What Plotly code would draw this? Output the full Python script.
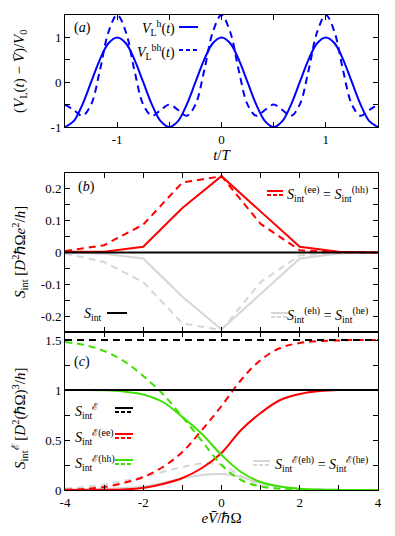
import plotly.graph_objects as go

# ---------------- data ----------------
# panel (a): time in units of the period T
t_a = [-1.5 + k / 12 for k in range(37)]
v_h = [-1, -0.87, -0.5, 0, 0.5, 0.87, 1, 0.87, 0.5, 0, -0.5, -0.87,
       -1, -0.87, -0.5, 0, 0.5, 0.87, 1, 0.87, 0.5, 0, -0.5, -0.87,
       -1, -0.87, -0.5, 0, 0.5, 0.87, 1, 0.87, 0.5, 0, -0.5, -0.87, -1]
v_bh = [-0.5, -0.62, -0.75, -0.5, 0.25, 1.12, 1.5, 1.12, 0.25, -0.5, -0.75, -0.62,
        -0.5, -0.62, -0.75, -0.5, 0.25, 1.12, 1.5, 1.12, 0.25, -0.5, -0.75, -0.62,
        -0.5, -0.62, -0.75, -0.5, 0.25, 1.12, 1.5, 1.12, 0.25, -0.5, -0.75, -0.62, -0.5]

# panel (b): bias eV/hbar Omega
x_b = [-4, -3, -2, -1, 0, 1, 2, 3, 4]
s_ee_solid = [0.002, 0.002, 0.018, 0.14, 0.24, 0.13, 0.018, 0.002, 0.0]
s_ee_dash = [0.005, 0.023, 0.088, 0.22, 0.24, 0.09, 0.007, 0.001, 0.0]
s_eh_solid = [0.0, -0.004, -0.019, -0.139, -0.242, -0.13, -0.019, -0.003, 0.0]
s_eh_dash = [-0.003, -0.03, -0.093, -0.223, -0.244, -0.093, -0.009, -0.001, 0.0]
s_tot_b = [0, 0, 0, 0, 0, 0, 0, 0, 0]

# panel (c)
x_c = [-4, -3.5, -3, -2.5, -2, -1.5, -1, -0.5, 0, 0.5, 1, 1.5, 2, 2.5, 3, 3.5, 4]
se_ee_solid = [0, 0, 0.002, 0.006, 0.02, 0.06, 0.12, 0.22, 0.37, 0.6, 0.77, 0.9, 0.96, 0.99, 1.0, 1.0, 1.0]
se_hh_solid = [1.0, 1.0, 0.997, 0.985, 0.955, 0.88, 0.73, 0.56, 0.35, 0.18, 0.08, 0.035, 0.012, 0.004, 0.001, 0, 0]
se_ee_dash = [0.003, 0.01, 0.03, 0.07, 0.13, 0.23, 0.38, 0.6, 0.84, 1.1, 1.3, 1.42, 1.47, 1.49, 1.495, 1.5, 1.5]
se_hh_dash = [1.48, 1.45, 1.39, 1.29, 1.14, 0.96, 0.73, 0.49, 0.25, 0.1, 0.035, 0.012, 0.003, 0, 0, 0, 0]
se_eh_solid = [0.005, 0.008, 0.012, 0.02, 0.035, 0.07, 0.115, 0.15, 0.16, 0.13, 0.07, 0.035, 0.012, 0.004, 0.001, 0, 0]
se_eh_dash = [0.015, 0.03, 0.055, 0.09, 0.13, 0.18, 0.23, 0.265, 0.25, 0.14, 0.05, 0.015, 0.005, 0, 0, 0, 0]
se_tot_solid = [1.0] * 17
se_tot_dash = [1.5] * 17

# tick definitions (labelled major ticks + unlabelled minor ticks)
a_xticks = [-1, 0, 1]
a_xlabels = ["-1", "0", "1"]
a_xminor = [-1.5, -0.5, 0.5, 1.5]
a_yticks = [-1, 0, 1]
a_ylabels = ["-1", "0", "1"]
a_yminor = [-0.5, 0.5, 1.5]
bc_xticks = [-4, -2, 0, 2, 4]
c_xlabels = ["-4", "-2", "0", "2", "4"]
bc_xminor = [-3, -1, 1, 3]
b_yticks = [-0.2, -0.1, 0, 0.1, 0.2]
b_ylabels = ["-0.2", "-0.1", "0", "0.1", "0.2"]
b_yminor = [-0.25, -0.15, -0.05, 0.05, 0.15, 0.25]
c_yticks = [0, 0.5, 1, 1.5]
c_ylabels = ["0", "0.5", "1", "1.5"]
c_yminor = [0.25, 0.75, 1.25]

# ---------------- style ----------------
BLUE = "#0000ff"
RED = "#ff0000"
GREEN = "#3ee000"
GRAY = "#d6d6d6"
BLACK = "#000000"
DASH = "7px,5px"
FONT = "Liberation Serif"
W, H = 395, 536
L, R, T, B = 65, 17, 15, 46
PH = H - T - B
PW = W - L - R

def ydom(top_px, bot_px):
    return [(H - B - bot_px) / PH, (H - B - top_px) / PH]

dom_a = ydom(15, 127)
dom_b = ydom(173, 332)
dom_c = ydom(332, 490)

fig = go.Figure()

def add(x, y, color, dash, xa, ya, width=2, shape="linear"):
    fig.add_trace(go.Scatter(x=x, y=y, mode="lines", xaxis=xa, yaxis=ya,
                             line=dict(color=color, width=width, dash=dash, shape=shape),
                             showlegend=False, hoverinfo="skip"))

# (a)
add(t_a, v_h, BLUE, "solid", "x", "y", shape="spline")
add(t_a, v_bh, BLUE, DASH, "x", "y", shape="spline")
# (b)
add(x_b, s_eh_solid, GRAY, "solid", "x2", "y2")
add(x_b, s_eh_dash, GRAY, DASH, "x2", "y2")
add(x_b, s_ee_solid, RED, "solid", "x2", "y2")
add(x_b, s_ee_dash, RED, DASH, "x2", "y2")
add(x_b, s_tot_b, BLACK, "solid", "x2", "y2", width=2.2)
# (c)
add(x_c, se_eh_solid, GRAY, "solid", "x3", "y3", shape="spline")
add(x_c, se_eh_dash, GRAY, DASH, "x3", "y3", shape="spline")
add(x_c, se_ee_solid, RED, "solid", "x3", "y3", shape="spline")
add(x_c, se_ee_dash, RED, DASH, "x3", "y3", shape="spline")
add(x_c, se_hh_solid, GREEN, "solid", "x3", "y3", shape="spline")
add(x_c, se_hh_dash, GREEN, DASH, "x3", "y3", shape="spline")
add(x_c, se_tot_solid, BLACK, "solid", "x3", "y3", width=2.2)
add(x_c, se_tot_dash, BLACK, DASH, "x3", "y3")

axis_common = dict(showline=True, linecolor="black", linewidth=1, mirror="allticks",
                   ticks="inside", ticklen=5, tickcolor="black", showgrid=False,
                   zeroline=False, automargin=False,
                   tickfont=dict(family=FONT, size=13, color="black"),
                   tickmode="array")

def minor(vals):
    return dict(tickmode="array", tickvals=vals, ticks="inside", ticklen=5,
                tickcolor="black", showgrid=False)

fig.update_layout(
    width=W, height=H, margin=dict(l=L, r=R, t=T, b=B, autoexpand=False),
    plot_bgcolor="white", paper_bgcolor="white",
    font=dict(family=FONT, size=13, color="black"),
    xaxis=dict(axis_common, domain=[0, 1], range=[-1.5, 1.5], anchor="y",
               tickvals=a_xticks, ticktext=a_xlabels, minor=minor(a_xminor),
               title=dict(text="<i>t</i>/<i>T</i>", standoff=0,
                          font=dict(family=FONT, size=15))),
    yaxis=dict(axis_common, domain=dom_a, range=[-1, 1.5], anchor="x",
               tickvals=a_yticks, ticktext=a_ylabels, minor=minor(a_yminor)),
    xaxis2=dict(axis_common, domain=[0, 1], range=[-4, 4], anchor="y2",
                tickvals=bc_xticks, showticklabels=False, minor=minor(bc_xminor)),
    yaxis2=dict(axis_common, domain=dom_b, range=[-0.25, 0.25], anchor="x2",
                tickvals=b_yticks, ticktext=b_ylabels, minor=minor(b_yminor)),
    xaxis3=dict(axis_common, domain=[0, 1], range=[-4, 4], anchor="y3",
                tickvals=bc_xticks, ticktext=c_xlabels, minor=minor(bc_xminor),
                title=dict(text="<i>e</i><i>V̄</i>/ℏΩ", standoff=0,
                           font=dict(family=FONT, size=15))),
    yaxis3=dict(axis_common, domain=dom_c, range=[0, 1.58], anchor="x3",
                tickvals=c_yticks, ticktext=c_ylabels, minor=minor(c_yminor)),
)

ann = []
shapes = []

def px2x(px):
    return (px - L) / PW

def px2y(py, dom):
    top_px = H - B - dom[1] * PH
    bot_px = H - B - dom[0] * PH
    return (bot_px - py) / (bot_px - top_px)

def text(px, py, s, dom, xa, ya, anchor="left", size=14):
    ann.append(dict(x=px2x(px), y=px2y(py, dom), xref=xa + " domain", yref=ya + " domain",
                    text=s, showarrow=False, xanchor=anchor, yanchor="middle",
                    font=dict(family=FONT, size=size, color="black")))

def sample(x0, x1, py, dom, xa, ya, color, dash):
    shapes.append(dict(type="line", x0=px2x(x0), x1=px2x(x1), y0=px2y(py, dom), y1=px2y(py, dom),
                       xref=xa + " domain", yref=ya + " domain",
                       line=dict(color=color, width=2, dash=dash)))

# panel labels
text(72, 28, "(<i>a</i>)", dom_a, "x", "y")
text(76, 187, "(<i>b</i>)", dom_b, "x2", "y2")
text(72, 362, "(<i>c</i>)", dom_c, "x3", "y3")

# (a) legend
text(177, 28, "<i>V</i><sub>L</sub><sup>h</sup>(<i>t</i>)", dom_a, "x", "y", anchor="right")
sample(179, 198, 27, dom_a, "x", "y", BLUE, "solid")
text(177, 52, "<i>V</i><sub>L</sub><sup>bh</sup>(<i>t</i>)", dom_a, "x", "y", anchor="right")
sample(179, 198, 50, dom_a, "x", "y", BLUE, "4px,3px")

# (b) legend
sample(267, 283, 191, dom_b, "x2", "y2", RED, "solid")
sample(267, 283, 195, dom_b, "x2", "y2", RED, "4px,2px")
text(370, 194, "<i>S</i><sub>int</sub><sup>(ee)</sup> = <i>S</i><sub>int</sub><sup>(hh)</sup>",
     dom_b, "x2", "y2", anchor="right")
text(82, 314, "<i>S</i><sub>int</sub>", dom_b, "x2", "y2")
sample(107, 127, 313, dom_b, "x2", "y2", BLACK, "solid")
sample(271, 288, 313, dom_b, "x2", "y2", GRAY, "solid")
sample(271, 288, 317, dom_b, "x2", "y2", GRAY, "4px,2px")
text(370, 315, "<i>S</i><sub>int</sub><sup>(eh)</sup> = <i>S</i><sub>int</sub><sup>(he)</sup>",
     dom_b, "x2", "y2", anchor="right")

# (c) legend
text(73, 411, "<i>S</i><sub>int</sub><sup>ℰ</sup>", dom_c, "x3", "y3")
sample(115, 133, 408, dom_c, "x3", "y3", BLACK, "solid")
sample(115, 133, 412, dom_c, "x3", "y3", BLACK, "4px,2px")
text(73, 437, "<i>S</i><sub>int</sub><sup>ℰ(ee)</sup>", dom_c, "x3", "y3")
sample(115, 133, 434, dom_c, "x3", "y3", RED, "solid")
sample(115, 133, 438, dom_c, "x3", "y3", RED, "4px,2px")
text(73, 463, "<i>S</i><sub>int</sub><sup>ℰ(hh)</sup>", dom_c, "x3", "y3")
sample(115, 133, 460, dom_c, "x3", "y3", GREEN, "solid")
sample(115, 133, 464, dom_c, "x3", "y3", GREEN, "4px,2px")
sample(253, 270, 461, dom_c, "x3", "y3", GRAY, "solid")
sample(253, 270, 465, dom_c, "x3", "y3", GRAY, "4px,2px")
text(370, 464, "<i>S</i><sub>int</sub><sup>ℰ(eh)</sup> = <i>S</i><sub>int</sub><sup>ℰ(he)</sup>",
     dom_c, "x3", "y3", anchor="right")

# y-axis titles (rotated), positioned in page pixels
for cy, s in [(71, "(<i>V</i><sub>L</sub>(<i>t</i>) − <i>V̄</i>)/<i>V</i><sub>0</sub>"),
              (252, "<i>S</i><sub>int</sub> [<i>D</i><sup>2</sup>ℏΩ<i>e</i><sup>2</sup>/<i>h</i>]"),
              (418, "<i>S</i><sub>int</sub><sup>ℰ</sup> [<i>D</i><sup>2</sup>(ℏΩ)<sup>3</sup>/<i>h</i>]")]:
    ann.append(dict(x=(20 - L) / PW, y=(H - B - cy) / PH, xref="paper", yref="paper", text=s,
                    showarrow=False, textangle=-90, xanchor="center", yanchor="middle",
                    font=dict(family=FONT, size=15, color="black")))

fig.update_layout(annotations=ann, shapes=shapes)
fig.write_html("out.html", config={"displayModeBar": False},
               post_script="document.body.style.margin='0';document.body.style.overflow='hidden';")
